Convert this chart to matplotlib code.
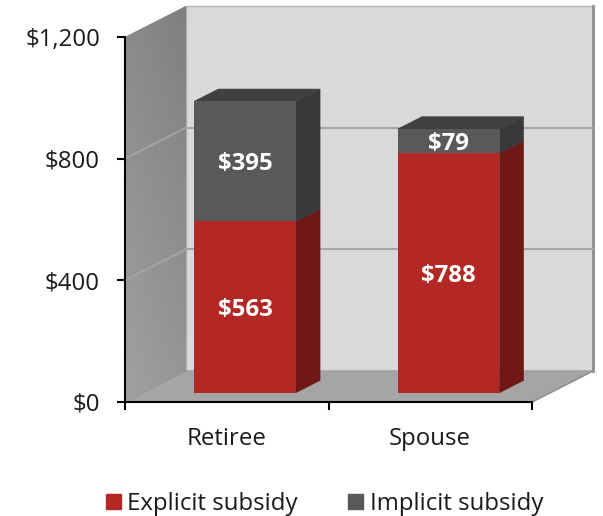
import numpy as np
import matplotlib
matplotlib.use('Agg')
import matplotlib.pyplot as plt
from matplotlib.patches import Polygon, Patch

plt.rcParams['font.family'] = ['Open Sans', 'DejaVu Sans']

categories = ['Retiree', 'Spouse']
explicit = [563, 788]
implicit = [395, 79]
y_ticks = [0, 400, 800, 1200]
y_labels = ['$0', '$400', '$800', '$1,200']

RED = '#b32824'
RED_SIDE = '#701816'
GREY = '#58595b'
GREY_SIDE = '#38393a'
GREY_TOP = '#3f4040'
TEXT = '#1a1a1a'
FS = 17.3

# depth of the fake 3d box, in data units
DEPTH_X = 0.30
DEPTH_Y = 102
BAR_W = 0.5
BAR_D0 = 0.30
BAR_D1 = 0.695


def proj(x, y, d):
    return (x + d * DEPTH_X, y + d * DEPTH_Y)


def face(ax, pts, color, z, edge='none', lw=0):
    p = Polygon(pts, closed=True, facecolor=color, edgecolor=edge, linewidth=lw,
                zorder=z, clip_on=False)
    ax.add_patch(p)
    return p


def draw_segment(ax, x, y0, y1, front, side, top=None):
    xl = x - BAR_W / 2
    xr = x + BAR_W / 2
    # thin edge in the face colour hides the seams between faces
    face(ax, [proj(xr, y0, BAR_D0), proj(xr, y1, BAR_D0), proj(xr, y1, BAR_D1), proj(xr, y0, BAR_D1)], side, 4, side, 0.4)
    if top:
        face(ax, [proj(xl, y1, BAR_D0), proj(xr, y1, BAR_D0), proj(xr, y1, BAR_D1), proj(xl, y1, BAR_D1)], top, 4, top, 0.4)
    face(ax, [proj(xl, y0, BAR_D0), proj(xr, y0, BAR_D0), proj(xr, y1, BAR_D0), proj(xl, y1, BAR_D0)], front, 5)


def bar_label(ax, x, y, s):
    ax.annotate(s, (x, y), xytext=(0, -2.2), textcoords='offset points', color='white', fontsize=FS,
                fontweight='bold', ha='center', va='center', zorder=6)


fig = plt.figure(figsize=(6.03, 5.16), dpi=100)
ax = fig.add_axes([125 / 603, 1 - 402 / 516, 407 / 603, 365 / 516])

x_max = 2
y_max = y_ticks[-1]

# back wall, floor and side wall
face(ax, [proj(0, 0, 1), proj(x_max, 0, 1), proj(x_max, y_max, 1), proj(0, y_max, 1)], '#d9d9d9', 1, '#b4b4b4', 1)
face(ax, [proj(0, 0, 0), proj(x_max, 0, 0), proj(x_max, 0, 1), proj(0, 0, 1)], '#a5a5a5', 2, '#a0a0a0', 1)
side = face(ax, [proj(0, 0, 0), proj(0, 0, 1), proj(0, y_max, 1), proj(0, y_max, 0)], '#8c8c8c', 2)
grad = np.linspace(0.54, 0.50, 64).reshape(1, -1) + np.linspace(0, 0.09, 64).reshape(-1, 1)
im = ax.imshow(grad, extent=(0, DEPTH_X, 0, y_max + DEPTH_Y), origin='upper', aspect='auto',
               cmap='gray', vmin=0, vmax=1, zorder=2)
im.set_clip_path(side)
im.set_clip_box(fig.bbox)
ax.plot([x_max + DEPTH_X] * 2, [DEPTH_Y, y_max + DEPTH_Y], color='#8f8f8f', lw=2, zorder=2, clip_on=False)
ax.plot([x_max, x_max + DEPTH_X], [0, DEPTH_Y], color='#8f8f8f', lw=1, zorder=2, clip_on=False)

# gridlines run across the side wall and the back wall
for v in y_ticks[1:-1]:
    a = proj(0, v, 0)
    b = proj(0, v, 1)
    c = proj(x_max, v, 1)
    ax.plot([a[0], b[0]], [a[1], b[1]], color='#a3a3a3', lw=1.5, zorder=3, clip_on=False)
    ax.plot([b[0], c[0]], [b[1], c[1]], color='#a6a6a6', lw=1.5, zorder=3, clip_on=False)

# bars
for i, name in enumerate(categories):
    x = i + 0.5
    e = explicit[i]
    m = implicit[i]
    draw_segment(ax, x, 0, e, RED, RED_SIDE)
    draw_segment(ax, x, e, e + m, GREY, GREY_SIDE, GREY_TOP)
    cx, base = proj(x, 0, BAR_D0)
    bar_label(ax, cx, base + e / 2, f'${e}')
    bar_label(ax, cx, base + e + m / 2, f'${m}')

ax.set_xlim(0, x_max)
ax.set_ylim(0, y_max)
ax.patch.set_visible(False)
for s in ['top', 'right']:
    ax.spines[s].set_visible(False)
for s in ['left', 'bottom']:
    ax.spines[s].set_linewidth(1.5)
    ax.spines[s].set_zorder(7)

ax.set_yticks(y_ticks)
ax.set_yticklabels(y_labels)
ax.set_xticks([0, 1, 2])
ax.set_xticklabels([])
ax.set_xticks([0.5, 1.5], minor=True)
ax.set_xticklabels(categories, minor=True)
ax.tick_params(axis='x', which='major', length=6, width=1.5, color='black')
ax.tick_params(axis='x', which='minor', length=0, pad=18, labelsize=FS, labelcolor=TEXT)
ax.tick_params(axis='y', length=6, width=1.5, color='black', pad=12, labelsize=FS, labelcolor=TEXT)

handles = [Patch(color=RED, label='Explicit subsidy'), Patch(color=GREY, label='Implicit subsidy')]
fig.legend(handles=handles, loc='lower left', bbox_to_anchor=(106 / 603, 0), ncol=2, frameon=False,
           fontsize=FS, handlelength=0.63, handleheight=0.63, handletextpad=0.26,
           columnspacing=2.1, labelcolor=TEXT, borderpad=0, borderaxespad=0)

fig.savefig('out.png', dpi=100)
